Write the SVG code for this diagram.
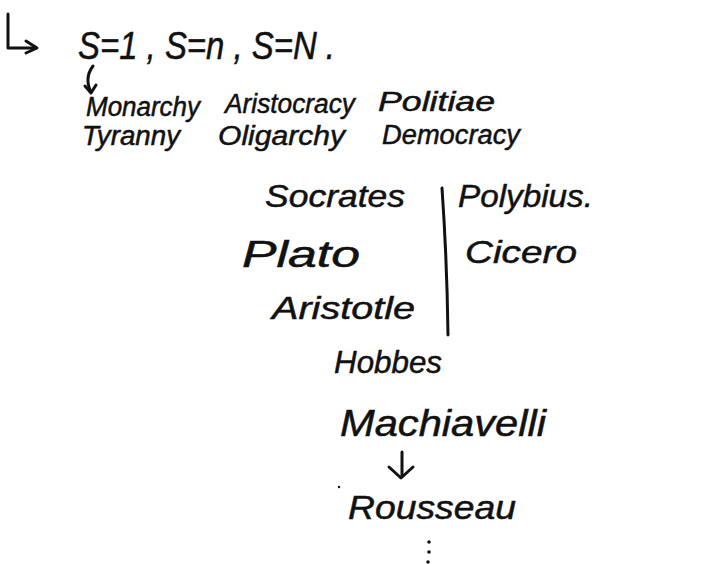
<svg xmlns="http://www.w3.org/2000/svg" width="716" height="564" viewBox="0 0 716 564">
<defs>
<style>
.t{font-family:"Liberation Sans","DejaVu Sans",sans-serif;font-style:italic;fill:#111;stroke:#111;stroke-width:0.5;}
.l{stroke:#111;stroke-width:3;fill:none;stroke-linecap:round;stroke-linejoin:round;}
</style>
</defs>
<rect width="716" height="564" fill="#fff"/>
<g id="connectors">
<path class="l" d="M8,14 L8,48 L36,48" />
<path class="l" d="M26,41 L37,48 L26,53"/>
<path class="l" d="M93,66 Q84,78 91,92"/>
<path class="l" d="M85,86 L91,93 L96,85"/>
<path class="l" d="M442,188 Q447,260 448,335"/>
<path class="l" d="M402,452 L402,476"/>
<path class="l" d="M389,467 L401,478 L413,467"/>
<circle cx="339" cy="487" r="1.2" fill="#111"/>
<circle cx="429" cy="542" r="1.8" fill="#111"/>
<circle cx="429" cy="552" r="1.8" fill="#111"/>
<circle cx="428" cy="562" r="1.8" fill="#111"/>
</g>
<g id="sizes"><text class="t" x="78" y="59" font-size="38" textLength="257" lengthAdjust="spacingAndGlyphs">S=1 , S=n , S=N .</text></g>
<g id="monarchy"><text class="t" x="86" y="116" font-size="27" textLength="114" lengthAdjust="spacingAndGlyphs">Monarchy</text></g>
<g id="aristocracy"><text class="t" x="225" y="113" font-size="27" textLength="130" lengthAdjust="spacingAndGlyphs">Aristocracy</text></g>
<g id="politiae"><text class="t" x="378" y="111" font-size="27" textLength="117" lengthAdjust="spacingAndGlyphs">Politiae</text></g>
<g id="tyranny"><text class="t" x="82" y="145" font-size="27" textLength="98" lengthAdjust="spacingAndGlyphs">Tyranny</text></g>
<g id="oligarchy"><text class="t" x="218" y="145" font-size="27" textLength="127" lengthAdjust="spacingAndGlyphs">Oligarchy</text></g>
<g id="democracy"><text class="t" x="382" y="144" font-size="27" textLength="138" lengthAdjust="spacingAndGlyphs">Democracy</text></g>
<g id="socrates"><text class="t" x="265" y="207" font-size="32" textLength="140" lengthAdjust="spacingAndGlyphs">Socrates</text></g>
<g id="polybius"><text class="t" x="458" y="207" font-size="32" textLength="135" lengthAdjust="spacingAndGlyphs">Polybius.</text></g>
<g id="plato"><text class="t" x="242" y="267" font-size="36" textLength="118" lengthAdjust="spacingAndGlyphs">Plato</text></g>
<g id="cicero"><text class="t" x="465" y="263" font-size="32" textLength="112" lengthAdjust="spacingAndGlyphs">Cicero</text></g>
<g id="aristotle"><text class="t" x="272" y="319" font-size="32" textLength="143" lengthAdjust="spacingAndGlyphs">Aristotle</text></g>
<g id="hobbes"><text class="t" x="334" y="373" font-size="32" textLength="108" lengthAdjust="spacingAndGlyphs">Hobbes</text></g>
<g id="machiavelli"><text class="t" x="340" y="436" font-size="36" textLength="206" lengthAdjust="spacingAndGlyphs">Machiavelli</text></g>
<g id="rousseau"><text class="t" x="348" y="519" font-size="34" textLength="168" lengthAdjust="spacingAndGlyphs">Rousseau</text></g>
</svg>
